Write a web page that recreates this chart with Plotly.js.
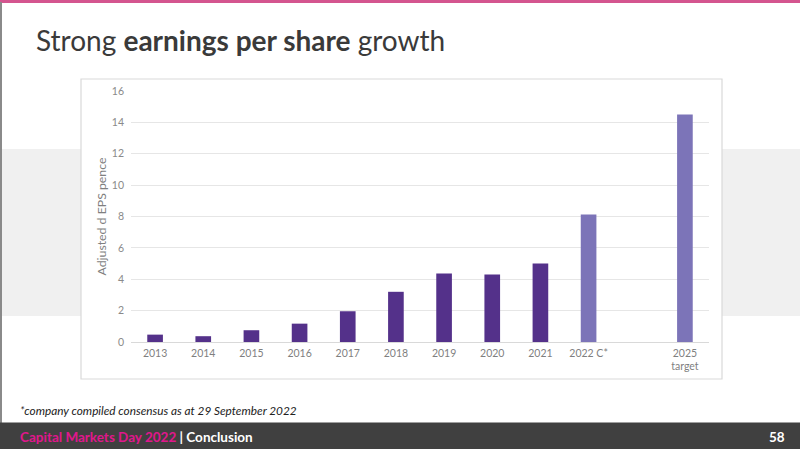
<!DOCTYPE html>
<html>
<head>
<meta charset="utf-8">
<script src="https://cdn.plot.ly/plotly-3.0.1.min.js"></script>
<style>
html,body{margin:0;padding:0;background:#fff;}
#chart{width:800px;height:449px;}
</style>
</head>
<body>
<div id="chart"></div>
<script>
// ---- data ----
var categories = ['2013','2014','2015','2016','2017','2018','2019','2020','2021','2022 C*',' ','2025<br>target'];
var epsValues = [0.47, 0.37, 0.75, 1.17, 1.96, 3.2, 4.37, 4.31, 5.01, 8.13, null, 14.5];
var isForecast = [false,false,false,false,false,false,false,false,false,true,true,true];
var yTicks = [0,2,4,6,8,10,12,14,16];

var titleText = 'Strong <b>earnings per share</b> growth';
var yTitle = 'Adjusted d EPS pence';
var footnote = '*company compiled consensus as at 29 September 2022';
var footerLeft = 'Capital Markets Day 2022';
var footerRight = 'Conclusion';
var pageNo = '58';

// ---- layout helpers (pixel -> paper) ----
var W = 800, H = 449;
var L = 131, R = 709, T = 91, B = 342;
function px(x){ return (x - L) / (R - L); }
function py(y){ return (B - y) / (B - T); }

var dark = '#54318a', light = '#7c74b8';
var colors = isForecast.map(function(f){ return f ? light : dark; });

var font = 'Lato, "Open Sans", sans-serif';

var trace = {
  type: 'bar',
  x: categories,
  y: epsValues,
  marker: {color: colors, line: {width: 0}},
  hoverinfo: 'x+y'
};

var shapes = [
  {type:'rect', xref:'paper', yref:'paper', x0:px(0), x1:px(800), y0:py(316), y1:py(149),
   fillcolor:'#f0f0f0', line:{width:0}, layer:'below'},
  {type:'rect', xref:'paper', yref:'paper', x0:px(81), x1:px(722), y0:py(379), y1:py(79),
   fillcolor:'#ffffff', line:{color:'#d9d9d9', width:1.2}, layer:'below'},
  {type:'rect', xref:'paper', yref:'paper', x0:px(0), x1:px(800), y0:py(3), y1:py(0),
   fillcolor:'#d4558f', line:{width:0}, layer:'below'},
  {type:'rect', xref:'paper', yref:'paper', x0:px(0), x1:px(2), y0:py(423), y1:py(2),
   fillcolor:'#8a8a8a', line:{width:0}, layer:'below'},
  {type:'rect', xref:'paper', yref:'paper', x0:px(0), x1:px(800), y0:py(449), y1:py(422.5),
   fillcolor:'#404040', line:{width:0}, layer:'below'}
];

var annotations = [
  {xref:'paper', yref:'paper', x:px(18), y:py(410), xanchor:'left', yanchor:'middle',
   text:'<i>' + footnote + '</i>', showarrow:false,
   font:{family:font, size:11.8, color:'#222222'}},
  {xref:'paper', yref:'paper', x:px(18), y:py(437), xanchor:'left', yanchor:'middle',
   text:'<b><span style="color:#e0168c">' + footerLeft + '</span><span style="color:#ffffff">&nbsp;|&nbsp;' + footerRight + '</span></b>',
   showarrow:false, font:{family:font, size:13.5, color:'#ffffff'}},
  {xref:'paper', yref:'paper', x:px(787), y:py(437), xanchor:'right', yanchor:'middle',
   text:'<b>' + pageNo + '</b>', showarrow:false,
   font:{family:font, size:13.5, color:'#ffffff'}}
];

var layout = {
  width: W, height: H,
  margin: {l: L, r: W - R, t: T, b: H - B, pad: 0},
  paper_bgcolor: '#ffffff',
  plot_bgcolor: 'rgba(0,0,0,0)',
  showlegend: false,
  bargap: 0.675,
  title: {
    text: titleText, xref: 'container', yref: 'container',
    x: 36 / W, xanchor: 'left', y: 1 - 41 / H, yanchor: 'middle',
    font: {family: font, size: 28, color: '#3a3a3a'}
  },
  xaxis: {
    type: 'category',
    categoryorder: 'array', categoryarray: categories,
    showgrid: false, showline: false, zeroline: false,
    ticks: '', ticklabelstandoff: 3,
    tickfont: {family: font, size: 10.5, color: '#7f7f7f'},
    fixedrange: true
  },
  yaxis: {
    range: [0, 16], tickvals: yTicks,
    showgrid: true, gridcolor: '#e6e6e6', gridwidth: 1,
    zeroline: true, zerolinecolor: '#d9d9d9', zerolinewidth: 1,
    showline: false, ticks: '',
    ticklabelstandoff: 6,
    tickfont: {family: font, size: 10.5, color: '#8a8a8a'},
    title: {text: yTitle, standoff: 2, font: {family: font, size: 12.3, color: '#7f7f7f'}},
    fixedrange: true
  },
  shapes: shapes,
  annotations: annotations
};

Plotly.newPlot('chart', [trace], layout, {displayModeBar: false, staticPlot: true});
</script>
</body>
</html>
